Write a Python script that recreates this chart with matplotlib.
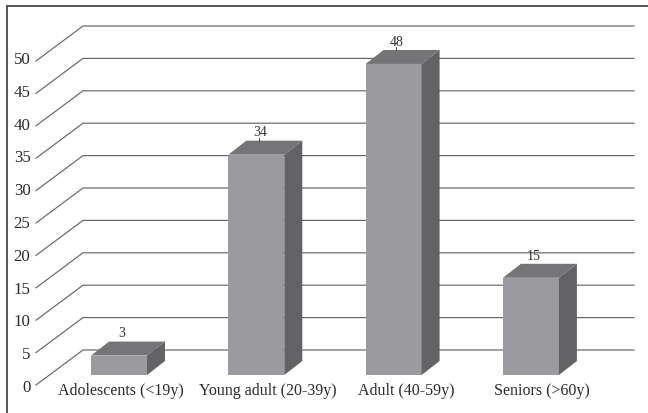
import matplotlib
matplotlib.use("Agg")
import matplotlib.pyplot as plt
from matplotlib.patches import Polygon, Rectangle

categories = ["Adolescents (<19y)", "Young adult (20-39y)", "Adult (40-59y)", "Seniors (>60y)"]
values = [3, 34, 48, 15]
ticks = [0, 5, 10, 15, 20, 25, 30, 35, 40, 45, 50]

W, H = 648, 413
plt.rcParams['font.family'] = ['Liberation Serif', 'DejaVu Serif']
fig = plt.figure(figsize=(W/100, H/100), dpi=100)
ax = fig.add_axes([0, 0, 1, 1])
ux, uy = 137.3, 6.48     # pixels per category / per value
x0, y0 = 119, 375        # pixel of category 0, value 0
ax.set_xlim(-x0/ux, (W-x0)/ux)
ax.set_ylim(-(H-y0)/uy, y0/uy)
ax.axis("off")

px = lambda p: p/ux
py = lambda p: p/uy
X = lambda p: (p-x0)/ux     # pixel column -> axis position
Y = lambda p: (y0-p)/uy     # pixel row -> axis position
barw = px(56)
dx, dy = px(18), py(14)
fl, bl, br = X(36), X(83), X(634)
back0, front0 = Y(350), Y(385)
label_x = [121, 268, 406, 542]
value_x = [121.5, 260, 396.5, 534]

for t in ticks:
    ax.plot([fl, bl, br], [front0+t, back0+t, back0+t], color='#666666', lw=0.85,
            solid_joinstyle='miter', zorder=1)
    ax.text(X(30.5), front0 + t*1.012 - py(3), str(t), ha='right', va='center',
            fontsize=12.2, color='#2a2a2a')

for i, (c, v) in enumerate(zip(categories, values)):
    l, r = i-barw/2, i+barw/2
    ax.add_patch(Rectangle((l, 0), barw, v, fc='#9b9b9f', ec='none', zorder=3))
    ax.add_patch(Polygon([(l, v), (r, v), (r+dx, v+dy), (l+dx, v+dy)], fc='#757578', ec='none', zorder=3))
    ax.add_patch(Polygon([(r, 0), (r+dx, dy), (r+dx, v+dy), (r, v)], fc='#636365', ec='none', zorder=3))
    ax.text(X(value_x[i]), v+dy+py(1.2), str(v), ha='center', va='bottom', fontsize=10, color='#333333', zorder=4)
    if v > 30:  # short leader lines visible on the two tall bars
        ax.plot([X(value_x[i]-1)]*2, [v+dy, v+dy+py(2.5)], color='#444444', lw=0.7, zorder=4)
    ax.text(X(label_x[i]), Y(391), c, ha='center', va='center', fontsize=11.5, color='#2a2a2a')

# frame: only the top and left rules are drawn, running off the page
ax.plot([X(7), X(7), X(W)], [Y(H), Y(6), Y(6)], color='#4a4a4a', lw=1.3,
        solid_joinstyle='miter', zorder=0)
fig.savefig("out.png", dpi=100)
